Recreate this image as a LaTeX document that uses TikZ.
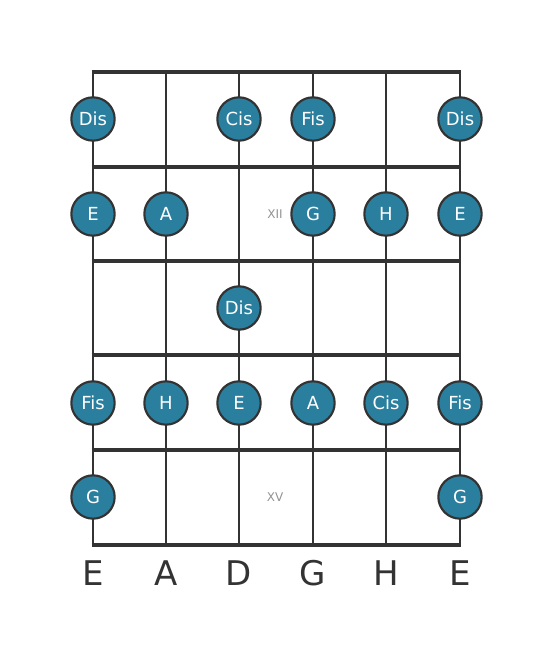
\documentclass[tikz,border=0pt]{standalone}
\usepackage{fontspec}
\setmainfont{DejaVu Sans}
\begin{document}
\begin{tikzpicture}[x=0.75pt,y=-0.75pt,
  strg/.style={draw=linec,line width=2pt},
  fret/.style={draw=linec,line width=3.6pt},
  note/.style={circle,draw=linec,line width=1.6pt,fill=notec,text=white,minimum size=32.5pt,inner sep=0pt,font=\fontsize{13.5}{13.5}\selectfont},
  strlabel/.style={text=linec,font=\fontsize{25.5}{25.5}\selectfont},
  fretnum/.style={text=gray!85,font=\fontsize{9}{9}\selectfont}]
\definecolor{linec}{HTML}{333333}
\definecolor{notec}{HTML}{2A7F9E}
\useasboundingbox (0,0) rectangle (553,656);
\fill[white] (0,0) rectangle (553,656);
% strings
\foreach \x/\n in {93/s1,166/s2,239/s3,313/s4,386/s5,460/s6}{
  \coordinate (\n t) at (\x,72);
  \coordinate (\n b) at (\x,545);
  \draw[strg] (\n t) -- (\n b);
}
% frets
\foreach \y/\n in {72/f0,167/f1,261/f2,355/f3,450/f4,545/f5}{
  \coordinate (\n l) at (93,\y);
  \coordinate (\n r) at (460,\y);
  \draw[fret] ([xshift=-1pt]\n l) -- ([xshift=1pt]\n r);
}
\node[fretnum] (xii) at (275,214) {XII};
\node[fretnum] (xv) at (275,497) {XV};
% notes
\node[note] (n11) at (93,119) {Dis};
\node[note] (n13) at (239,119) {Cis};
\node[note] (n14) at (313,119) {Fis};
\node[note] (n16) at (460,119) {Dis};
\node[note] (n21) at (93,214) {E};
\node[note] (n22) at (166,214) {A};
\node[note] (n24) at (313,214) {G};
\node[note] (n25) at (386,214) {H};
\node[note] (n26) at (460,214) {E};
\node[note] (n33) at (239,308) {Dis};
\node[note] (n41) at (93,403) {Fis};
\node[note] (n42) at (166,403) {H};
\node[note] (n43) at (239,403) {E};
\node[note] (n44) at (313,403) {A};
\node[note] (n45) at (386,403) {Cis};
\node[note] (n46) at (460,403) {Fis};
\node[note] (n51) at (93,497) {G};
\node[note] (n56) at (460,497) {G};
% string labels
\node[strlabel] (l1) at (93,573) {E};
\node[strlabel] (l2) at (166,573) {A};
\node[strlabel] (l3) at (239,573) {D};
\node[strlabel] (l4) at (313,573) {G};
\node[strlabel] (l5) at (386,573) {H};
\node[strlabel] (l6) at (460,573) {E};
\end{tikzpicture}
\end{document}
